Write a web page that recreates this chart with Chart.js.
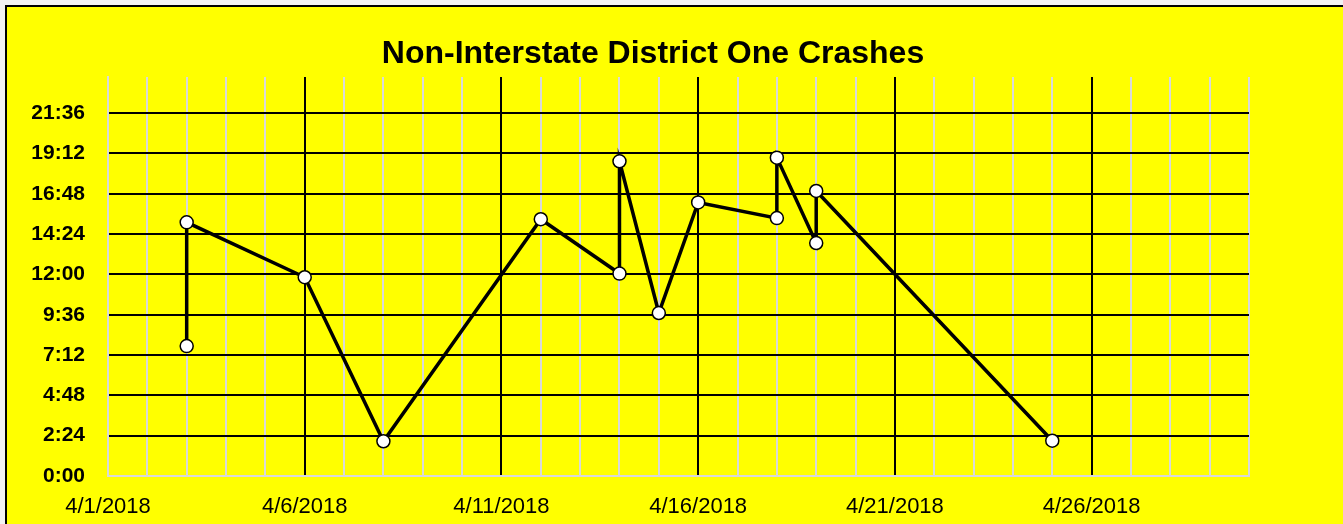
<!DOCTYPE html>
<html><head><meta charset="utf-8">
<script src="https://cdn.jsdelivr.net/npm/chart.js@4"></script>
<style>
html,body{margin:0;padding:0;background:#f2f2f2;overflow:hidden;width:1343px;height:524px;}
#frame{position:absolute;left:5px;top:5px;width:1400px;height:600px;background:#ffff00;border:2px solid #000;box-sizing:border-box;}
#c{position:absolute;left:0;top:0;}
</style></head><body>
<div id="frame"></div>
<canvas id="c" width="1343" height="524"></canvas>
<script>
const chartTitle = 'Non-Interstate District One Crashes';
const crashDates = ['4/3/2018','4/3/2018','4/6/2018','4/8/2018','4/12/2018','4/14/2018','4/14/2018','4/15/2018','4/16/2018','4/18/2018','4/18/2018','4/19/2018','4/19/2018','4/25/2018'];
const crashTimes = ['7:44','15:06','11:50','2:04','15:17','12:03','18:44','9:42','16:17','15:21','18:57','13:52','16:58','2:06'];
const yTickLabels = ['0:00','2:24','4:48','7:12','9:36','12:00','14:24','16:48','19:12','21:36'];
const xTickLabels = ['4/1/2018','4/6/2018','4/11/2018','4/16/2018','4/21/2018','4/26/2018'];
const xAxisStart = '4/1/2018';
const xAxisEnd = '4/30/2018';
const yAxisMaxTime = '23:45';

function dayNum(s){ const [m,d,y]=s.split('/').map(Number); return Date.UTC(y,m-1,d)/86400000; }
function timeFrac(s){ const [h,mi]=s.split(':').map(Number); return (h*60+mi)/1440; }
const base = dayNum(xAxisStart) - 1;
const toX = s => dayNum(s) - base;
const xMin = toX(xAxisStart), xMax = toX(xAxisEnd);
const xMajor = xTickLabels.map(toX);
const xDays = []; for (let v = xMin; v <= xMax; v++) xDays.push(v);
const yTicks = yTickLabels.map(timeFrac);
const points = crashDates.map((d,i)=>({x: toX(d), y: timeFrac(crashTimes[i])}));

const titleShift = {
  id:'titleShift',
  afterLayout(chart){ const t=chart.titleBlock; if(t){ t.left = 653-640; t.right = 653+640; } }
};

new Chart(document.getElementById('c'), {
  type:'line',
  data:{ datasets:[{
    data: points,
    borderColor:'#000', borderWidth:3.5, tension:0,
    pointBackgroundColor:'#fff', pointBorderColor:'#000', pointBorderWidth:1.5,
    pointRadius:6.5, pointHoverRadius:6.5, clip:false
  }]},
  options:{
    responsive:false, animation:false, devicePixelRatio:1,
    layout:{ padding:{left:0,right:94,top:0,bottom:0} },
    plugins:{
      legend:{display:false}, tooltip:{enabled:false},
      title:{ display:true, text:chartTitle, color:'#000',
        font:{family:'Liberation Sans', size:32, weight:'bold', lineHeight:1.2},
        padding:{top:35,bottom:3.6} }
    },
    scales:{
      x:{ type:'linear', min:xMin, max:xMax,
        afterBuildTicks(s){ s.ticks = xDays.map(v=>({value:v})); },
        afterFit(s){ s.height = 48; },
        ticks:{ autoSkip:false, maxRotation:0, minRotation:0, padding:18, color:'#000',
          font:{family:'Liberation Sans', size:22},
          callback(v){ const i = xMajor.indexOf(v); return i>=0 ? xTickLabels[i] : ''; } },
        grid:{ drawTicks:false, lineWidth:2,
          color(ctx){ const v = ctx.tick && ctx.tick.value; return (v !== xMin && xMajor.includes(v)) ? '#000' : '#d9d9d9'; } },
        border:{ display:true, color:'#d9d9d9', width:2 }
      },
      y:{ type:'linear', min:0, max:timeFrac(yAxisMaxTime),
        afterBuildTicks(s){ s.ticks = yTicks.map(v=>({value:v})); },
        afterFit(s){ s.width = 108; },
        ticks:{ padding:23, color:'#000', font:{family:'Liberation Sans', size:21, weight:'bold'},
          callback(v){ const i = yTicks.findIndex(t=>Math.abs(t-v)<1e-9); return i>=0 ? yTickLabels[i] : ''; } },
        grid:{ drawTicks:false, lineWidth:2,
          color(ctx){ const v = ctx.tick && ctx.tick.value; return v === 0 ? '#d9d9d9' : '#000'; } },
        border:{ display:true, color:'#d9d9d9', width:2 }
      }
    }
  },
  plugins:[titleShift]
});
</script>
</body></html>
